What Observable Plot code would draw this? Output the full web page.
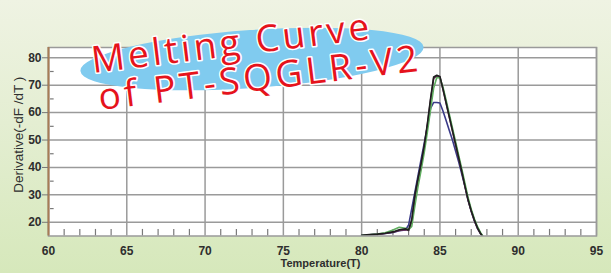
<!DOCTYPE html>
<html>
<head>
<meta charset="utf-8">
<script src="https://cdn.jsdelivr.net/npm/d3@7"></script>
<script src="https://cdn.jsdelivr.net/npm/@observablehq/plot@0.6"></script>
<style>
  html, body { margin: 0; padding: 0; }
  #wrap {
    position: relative; width: 611px; height: 273px; overflow: hidden;
    background: linear-gradient(180deg, #eff3e3 0%, #e4eed2 45%, #d6e8bb 100%);
  }
  #wrap svg.overlay { position: absolute; left: 0; top: 0; pointer-events: none; }
</style>
</head>
<body>
<div id="wrap"></div>
<script>
// ---- data ----
const temps = [80.0, 80.5, 81.0, 81.5, 82.0, 82.4, 82.8, 83.0, 83.2, 83.4, 83.6, 83.8, 84.0, 84.2, 84.4, 84.6, 84.8, 85.0, 85.2, 85.4, 85.6, 85.8, 86.0, 86.2, 86.4, 86.6, 86.8, 87.0, 87.2, 87.4, 87.6, 87.8];
const seriesBlack  = [15.3, 15.5, 15.7, 16.0, 16.5, 17.3, 17.6, 17.2, 21.0, 30.0, 36.0, 41.5, 48.0, 56.0, 65.0, 73.0, 73.6, 73.2, 68.5, 63.5, 58.5, 53.5, 48.5, 43.5, 38.5, 33.2, 28.2, 24.2, 20.8, 18.0, 15.9, 14.3];
const seriesGreen  = [15.2, 15.4, 15.7, 16.2, 17.2, 18.2, 17.8, 17.3, 18.5, 26.0, 33.0, 39.0, 45.5, 53.0, 61.0, 69.0, 72.8, 72.6, 69.2, 64.4, 59.4, 54.4, 49.4, 44.4, 39.4, 34.2, 29.0, 24.8, 21.3, 18.4, 16.2, 14.5];
const seriesMaroon = [15.1, 15.3, 15.6, 15.9, 16.4, 17.0, 17.3, 17.0, 20.0, 28.5, 35.0, 41.0, 47.5, 55.5, 64.5, 72.5, 73.3, 73.0, 68.3, 63.3, 58.3, 53.3, 48.3, 43.3, 38.3, 33.0, 28.0, 24.0, 20.6, 17.8, 15.8, 14.2];
const seriesNavy   = [15.2, 15.4, 15.6, 15.9, 16.3, 16.9, 17.2, 19.0, 25.0, 31.0, 37.0, 43.0, 49.0, 55.0, 61.5, 63.7, 63.7, 63.5, 60.5, 57.0, 53.5, 50.0, 46.0, 42.0, 37.5, 33.0, 28.0, 24.0, 20.6, 17.8, 15.8, 14.2];
const seriesNames  = ["black", "green", "maroon", "navy"];
const seriesColors = ["#1e1e1e", "#5fae5f", "#6a2f58", "#3a3a88"];
const xTicks = [60, 65, 70, 75, 80, 85, 90, 95];
const xMinor = [61, 62, 63, 64, 66, 67, 68, 69, 71, 72, 73, 74, 76, 77, 78, 79, 81, 82, 83, 84, 86, 87, 88, 89, 91, 92, 93, 94];
const yTicks = [20, 30, 40, 50, 60, 70, 80];
const yMinor = [25, 35, 45, 55, 65, 75];
const titleLines = ["Melting Curve", "of PT-SQGLR-V2"];
const xLabel = "Temperature(T)";
const yLabel = "Derivative(-dF /dT )";

// ---- build table ----
const allSeries = [seriesBlack, seriesGreen, seriesMaroon, seriesNavy];
const rows = [];
allSeries.forEach((vals, i) => {
  temps.forEach((t, j) => rows.push({series: seriesNames[i], t, v: vals[j]}));
});
const drawOrder = ["navy", "maroon", "green", "black"];

const tickFont = "'Liberation Sans Narrow', 'Arial Narrow', 'Liberation Sans', sans-serif";

const chart = Plot.plot({
  width: 611,
  height: 273,
  marginLeft: 48,
  marginRight: 15,
  marginTop: 47,
  marginBottom: 37.5,
  style: {background: "transparent", overflow: "visible"},
  x: {domain: [60, 95]},
  y: {domain: [15, 83.75]},
  marks: [
    Plot.frame({fill: "white", stroke: null}),
    Plot.ruleX(xTicks, {stroke: "#9a9a9a", strokeWidth: 1.5}),
    Plot.ruleY(yTicks, {stroke: "#9a9a9a", strokeWidth: 1.5}),
    Plot.ruleX(xMinor, {y1: 15, y2: 17.4, stroke: "#7a7a7a", strokeWidth: 1.2}),
    Plot.ruleY(yMinor, {x1: 60.13, x2: 60.36, stroke: "#7a7a7a", strokeWidth: 1.2}),
    ...drawOrder.map(name => Plot.line(rows.filter(d => d.series === name), {
      x: "t", y: "v",
      stroke: seriesColors[seriesNames.indexOf(name)],
      strokeWidth: 1.6,
      clip: true
    })),
    Plot.frame({stroke: "#9a9a9a", strokeWidth: 1.5}),
    Plot.ruleX([60], {stroke: "#a77c55", strokeWidth: 2}),
    Plot.axisY({
      ticks: yTicks, tickSize: 6, tickPadding: 1, label: null,
      fontSize: 12, fontWeight: "bold", fontFamily: tickFont,
      fill: "#2e2e2e", stroke: "#777"
    }),
    Plot.axisX({
      ticks: xTicks, tickSize: 0, tickPadding: 10, label: null,
      fontSize: 12, fontWeight: "bold", fontFamily: tickFont,
      fill: "#2e2e2e"
    }),
    Plot.text([yLabel], {
      frameAnchor: "left", dx: -30, dy: -7, rotate: -90,
      fontSize: 13.5, fontFamily: "'Liberation Sans', Arial, sans-serif",
      fill: "#2e2e2e", textAnchor: "middle"
    }),
    Plot.text([xLabel], {
      frameAnchor: "bottom", dx: -2, dy: 31,
      fontSize: 11, fontWeight: "bold", fontFamily: tickFont,
      fill: "#2e2e2e", textAnchor: "middle"
    })
  ]
});

const wrap = document.getElementById("wrap");
wrap.appendChild(chart);

// ---- title sticker overlay ----
const ns = "http://www.w3.org/2000/svg";
const ov = document.createElementNS(ns, "svg");
ov.setAttribute("class", "overlay");
ov.setAttribute("width", 611);
ov.setAttribute("height", 273);
const ell = document.createElementNS(ns, "ellipse");
ell.setAttribute("cx", 252); ell.setAttribute("cy", 59);
ell.setAttribute("rx", 172); ell.setAttribute("ry", 29);
ell.setAttribute("transform", "rotate(-4 252 59)");
ell.setAttribute("fill", "#80cbef");
ov.appendChild(ell);
const pos = [[93, 73], [100, 110]];
const spacing = [3.4, 3.8];
titleLines.forEach((s, i) => {
  const t = document.createElementNS(ns, "text");
  t.textContent = s;
  t.setAttribute("x", pos[i][0]);
  t.setAttribute("y", pos[i][1]);
  t.setAttribute("transform", `rotate(-7 ${pos[i][0]} ${pos[i][1]})`);
  t.setAttribute("font-family", "'Open Sans', 'Noto Sans', sans-serif");
  t.setAttribute("font-size", 37);
  t.setAttribute("font-weight", 500);
  t.setAttribute("letter-spacing", spacing[i]);
  t.setAttribute("fill", "#e5131c");
  t.setAttribute("stroke", "#ffffff");
  t.setAttribute("stroke-width", 3);
  t.setAttribute("paint-order", "stroke");
  t.setAttribute("stroke-linejoin", "round");
  ov.appendChild(t);
});
wrap.appendChild(ov);
</script>
</body>
</html>
